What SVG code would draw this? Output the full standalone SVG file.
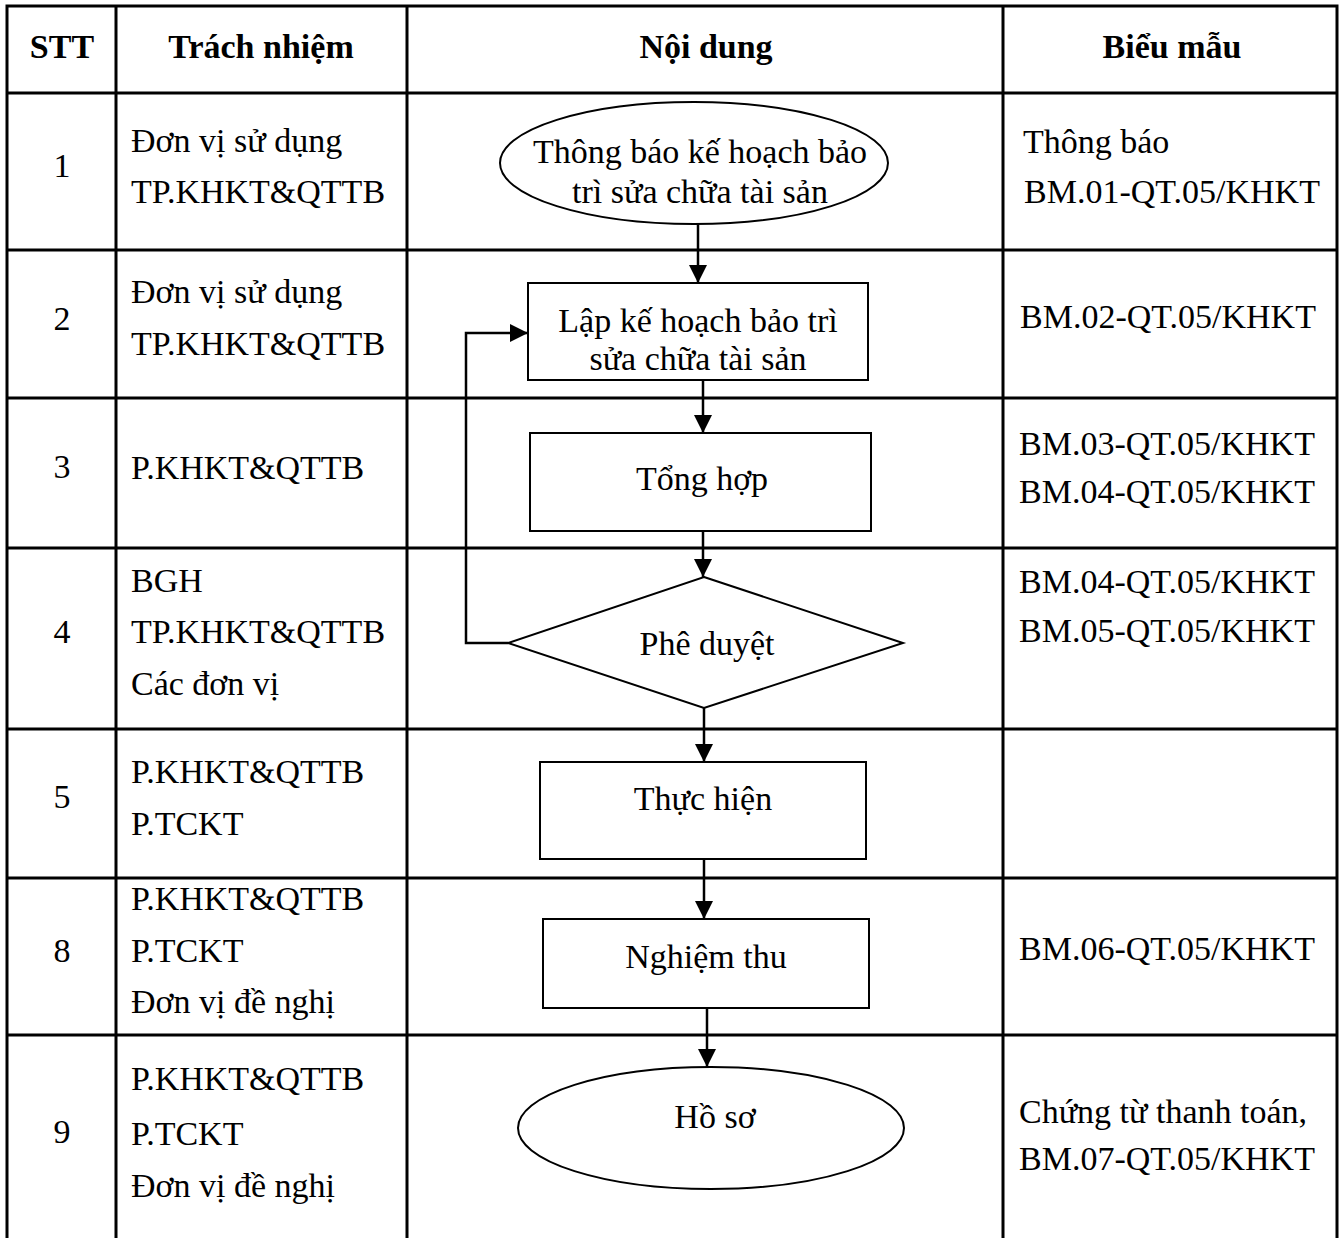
<svg xmlns="http://www.w3.org/2000/svg" width="1342" height="1238" viewBox="0 0 1342 1238">
<style>
text{font-family:"Liberation Serif","Times New Roman",serif;font-size:34px;fill:#000}
.h{font-weight:bold}
.c{text-anchor:middle}
.grid{stroke:#000;stroke-width:3;fill:none}
.shape{stroke:#000;stroke-width:2;fill:#fff}
.conn{stroke:#000;stroke-width:2.5;fill:none}
</style>
<defs>
<marker id="arr" markerWidth="18" markerHeight="18" refX="18" refY="9" orient="auto" markerUnits="userSpaceOnUse" viewBox="0 0 18 18">
<path d="M0,0 L18,9 L0,18 Z" fill="#000"/>
</marker>
</defs>
<rect width="1342" height="1238" fill="#fff"/>
<g id="table">
<path class="grid" d="M7,1238 V6 H1337 V1238 M116,6 V1238 M407,6 V1238 M1003,6 V1238 M7,93 H1337 M7,250 H1337 M7,398 H1337 M7,548 H1337 M7,729 H1337 M7,878 H1337 M7,1035 H1337"/>
</g>
<g id="headers">
<text class="h c" x="62" y="58">STT</text>
<text class="h c" x="261" y="58">Trách nhiệm</text>
<text class="h c" x="706" y="58">Nội dung</text>
<text class="h c" x="1172" y="58">Biểu mẫu</text>
</g>
<g id="stt">
<text class="c" x="62" y="177">1</text>
<text class="c" x="62" y="330">2</text>
<text class="c" x="62" y="478">3</text>
<text class="c" x="62" y="643">4</text>
<text class="c" x="62" y="808">5</text>
<text class="c" x="62" y="962">8</text>
<text class="c" x="62" y="1143">9</text>
</g>
<g id="responsibility">
<text x="131" y="152">Đơn vị sử dụng</text>
<text x="131" y="203">TP.KHKT&amp;QTTB</text>
<text x="131" y="303">Đơn vị sử dụng</text>
<text x="131" y="355">TP.KHKT&amp;QTTB</text>
<text x="131" y="479">P.KHKT&amp;QTTB</text>
<text x="131" y="592">BGH</text>
<text x="131" y="643">TP.KHKT&amp;QTTB</text>
<text x="131" y="695">Các đơn vị</text>
<text x="131" y="783">P.KHKT&amp;QTTB</text>
<text x="131" y="835">P.TCKT</text>
<text x="131" y="910">P.KHKT&amp;QTTB</text>
<text x="131" y="962">P.TCKT</text>
<text x="131" y="1013">Đơn vị đề nghị</text>
<text x="131" y="1090">P.KHKT&amp;QTTB</text>
<text x="131" y="1145">P.TCKT</text>
<text x="131" y="1197">Đơn vị đề nghị</text>
</g>
<g id="forms">
<text x="1023" y="153">Thông báo</text>
<text x="1024" y="203">BM.01-QT.05/KHKT</text>
<text x="1020" y="328">BM.02-QT.05/KHKT</text>
<text x="1019" y="455">BM.03-QT.05/KHKT</text>
<text x="1019" y="503">BM.04-QT.05/KHKT</text>
<text x="1019" y="593">BM.04-QT.05/KHKT</text>
<text x="1019" y="642">BM.05-QT.05/KHKT</text>
<text x="1019" y="960">BM.06-QT.05/KHKT</text>
<text x="1019" y="1123">Chứng từ thanh toán,</text>
<text x="1019" y="1170">BM.07-QT.05/KHKT</text>
</g>
<g id="connectors">
<path class="conn" d="M698,224 V283" marker-end="url(#arr)"/>
<path class="conn" d="M703,380 V433" marker-end="url(#arr)"/>
<path class="conn" d="M703,531 V577" marker-end="url(#arr)"/>
<path class="conn" d="M704,708 V762" marker-end="url(#arr)"/>
<path class="conn" d="M704,859 V919" marker-end="url(#arr)"/>
<path class="conn" d="M707,1008 V1067" marker-end="url(#arr)"/>
<path class="conn" d="M508,643 H466 V333 H528" marker-end="url(#arr)"/>
</g>
<g id="n1">
<ellipse class="shape" cx="694" cy="163" rx="194" ry="61"/>
<text class="c" x="700" y="163">Thông báo kế hoạch bảo</text>
<text class="c" x="700" y="203">trì sửa chữa tài sản</text>
</g>
<g id="n2">
<rect class="shape" x="528" y="283" width="340" height="97"/>
<text class="c" x="698" y="332">Lập kế hoạch bảo trì</text>
<text class="c" x="698" y="370">sửa chữa tài sản</text>
</g>
<g id="n3">
<rect class="shape" x="530" y="433" width="341" height="98"/>
<text class="c" x="702" y="490">Tổng hợp</text>
</g>
<g id="n4">
<polygon class="shape" points="704,577 903,643 704,708 508,643"/>
<text class="c" x="707" y="655">Phê duyệt</text>
</g>
<g id="n5">
<rect class="shape" x="540" y="762" width="326" height="97"/>
<text class="c" x="703" y="810">Thực hiện</text>
</g>
<g id="n6">
<rect class="shape" x="543" y="919" width="326" height="89"/>
<text class="c" x="706" y="968">Nghiệm thu</text>
</g>
<g id="n7">
<ellipse class="shape" cx="711" cy="1128" rx="193" ry="61"/>
<text class="c" x="715" y="1128">Hồ sơ</text>
</g>
</svg>
